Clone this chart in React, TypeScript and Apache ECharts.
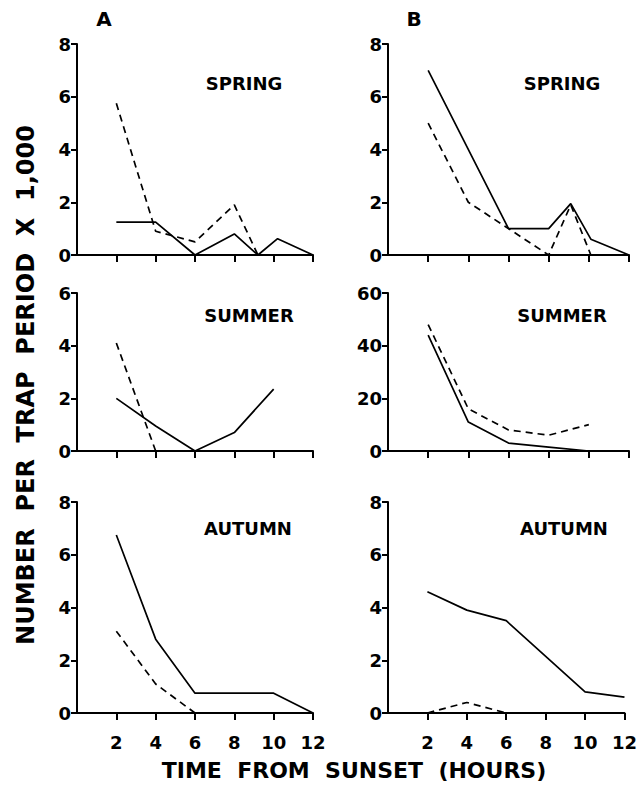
import React, { useEffect, useRef } from "react";
import * as echarts from "echarts";

// Hours from sunset (x) and number per trap period x 1,000 (y)
const xTicks = [2, 4, 6, 8, 10, 12];

const aSpringSolid = [[2, 1.25], [4, 1.25], [6, 0], [8, 0.8], [9.2, 0], [10.2, 0.62], [12, 0]];
const aSpringDashed = [[2, 5.75], [4, 0.9], [6, 0.5], [8, 1.9], [9.2, 0]];
const aSummerSolid = [[2, 2.0], [4, 0.95], [6, 0], [8, 0.7], [10, 2.35]];
const aSummerDashed = [[2, 4.1], [4, 0]];
const aAutumnSolid = [[2, 6.75], [4, 2.8], [6, 0.75], [8, 0.75], [10, 0.75], [12, 0]];
const aAutumnDashed = [[2, 3.1], [4, 1.1], [6, 0]];

const bSpringSolid = [[2, 7.0], [6, 1.0], [8, 1.0], [9.1, 1.95], [10.1, 0.6], [12, 0]];
const bSpringDashed = [[2, 5.0], [4, 2.0], [8, 0], [9.1, 1.9], [10.1, 0]];
const bSummerSolid = [[2, 44], [4, 11], [6, 3], [8, 1.5], [10, 0]];
const bSummerDashed = [[2, 48], [4, 16], [6, 8], [8, 6], [10, 10]];
const bAutumnSolid = [[2, 4.6], [4, 3.9], [6, 3.5], [10, 0.8], [12, 0.6]];
const bAutumnDashed = [[2, 0], [4, 0.4], [6, 0]];

const seasons = ["SPRING", "SUMMER", "AUTUMN"];
const yMax = [[8, 6, 8], [8, 60, 8]];
const yInterval = [[2, 2, 2], [2, 20, 2]];
const panelSeries = [
  [[aSpringSolid, aSpringDashed], [aSummerSolid, aSummerDashed], [aAutumnSolid, aAutumnDashed]],
  [[bSpringSolid, bSpringDashed], [bSummerSolid, bSummerDashed], [bAutumnSolid, bAutumnDashed]],
];

const FONT = "DejaVu Sans";

export default function App() {
  const ref = useRef<HTMLDivElement>(null);
  useEffect(() => {
    if (!ref.current) return;
    const chart = echarts.init(ref.current, null, { renderer: "svg" });
    const colLeft = [77, 388];
    const colWidth = [236, 241];
    const rowTop = [44, 293, 502];
    const rowHeight = [211, 158, 211];
    const grids: any[] = [];
    const xAxes: any[] = [];
    const yAxes: any[] = [];
    const series: any[] = [];
    const graphics: any[] = [];
    const seasonX = [[244, 562], [249, 562], [248, 564]];
    const seasonY = [83, 315, 528];
    let idx = 0;
    for (let c = 0; c < 2; c++) {
      for (let r = 0; r < 3; r++) {
        grids.push({ left: colLeft[c], top: rowTop[r], width: colWidth[c], height: rowHeight[r], containLabel: false });
        xAxes.push({
          type: "value",
          gridIndex: idx,
          min: 0,
          max: 12,
          interval: 2,
          axisLine: { show: true, onZero: false, lineStyle: { color: "#000", width: 2 } },
          axisTick: { show: true, inside: false, length: 7, customValues: xTicks, lineStyle: { color: "#000", width: 2 } },
          axisLabel: {
            show: r === 2,
            customValues: xTicks,
            margin: 20,
            color: "#000",
            fontFamily: FONT,
            fontWeight: "bold",
            fontSize: 18,
          },
          splitLine: { show: false },
        });
        yAxes.push({
          type: "value",
          gridIndex: idx,
          min: 0,
          max: yMax[c][r],
          interval: yInterval[c][r],
          axisLine: { show: true, lineStyle: { color: "#000", width: 2 } },
          axisTick: { show: true, inside: false, length: 6, lineStyle: { color: "#000", width: 2 } },
          axisLabel: {
            margin: 6,
            color: "#000",
            fontFamily: FONT,
            fontWeight: "bold",
            fontSize: 18,
          },
          splitLine: { show: false },
        });
        const [solid, dashed] = panelSeries[c][r];
        series.push({
          type: "line",
          xAxisIndex: idx,
          yAxisIndex: idx,
          data: solid,
          symbol: "none",
          lineStyle: { color: "#000", width: 1.7, type: "solid" },
          z: 3,
        });
        series.push({
          type: "line",
          xAxisIndex: idx,
          yAxisIndex: idx,
          data: dashed,
          symbol: "none",
          lineStyle: { color: "#000", width: 1.7, type: [7, 5] },
          z: 3,
        });
        graphics.push({
          type: "text",
          x: seasonX[r][c],
          y: seasonY[r],
          style: {
            text: seasons[r],
            fill: "#000",
            font: `600 18px "${FONT}"`,
            textAlign: "center",
            textVerticalAlign: "middle",
          },
        });
        idx++;
      }
    }
    graphics.push(
      {
        type: "text",
        x: 104,
        y: 19,
        style: { text: "A", fill: "#000", font: `bold 20px "${FONT}"`, textAlign: "center", textVerticalAlign: "middle" },
      },
      {
        type: "text",
        x: 414,
        y: 19,
        style: { text: "B", fill: "#000", font: `bold 20px "${FONT}"`, textAlign: "center", textVerticalAlign: "middle" },
      },
      {
        type: "text",
        x: 354,
        y: 770,
        style: {
          text: "TIME  FROM  SUNSET  (HOURS)",
          fill: "#000",
          font: `bold 22px "${FONT}"`,
          textAlign: "center",
          textVerticalAlign: "middle",
        },
      },
      {
        type: "text",
        x: 26,
        y: 385,
        rotation: Math.PI / 2,
        style: {
          text: "NUMBER  PER  TRAP  PERIOD  X  1,000",
          fill: "#000",
          font: `bold 24px "${FONT}"`,
          textAlign: "center",
          textVerticalAlign: "middle",
        },
      }
    );
    chart.setOption({
      animation: false,
      backgroundColor: "#fff",
      grid: grids,
      xAxis: xAxes,
      yAxis: yAxes,
      series,
      graphic: graphics,
    });
    return () => chart.dispose();
  }, []);
  return (
    <div
      ref={ref}
      style={{ position: "fixed", left: 0, top: 0, width: 640, height: 785, background: "#fff" }}
    />
  );
}
